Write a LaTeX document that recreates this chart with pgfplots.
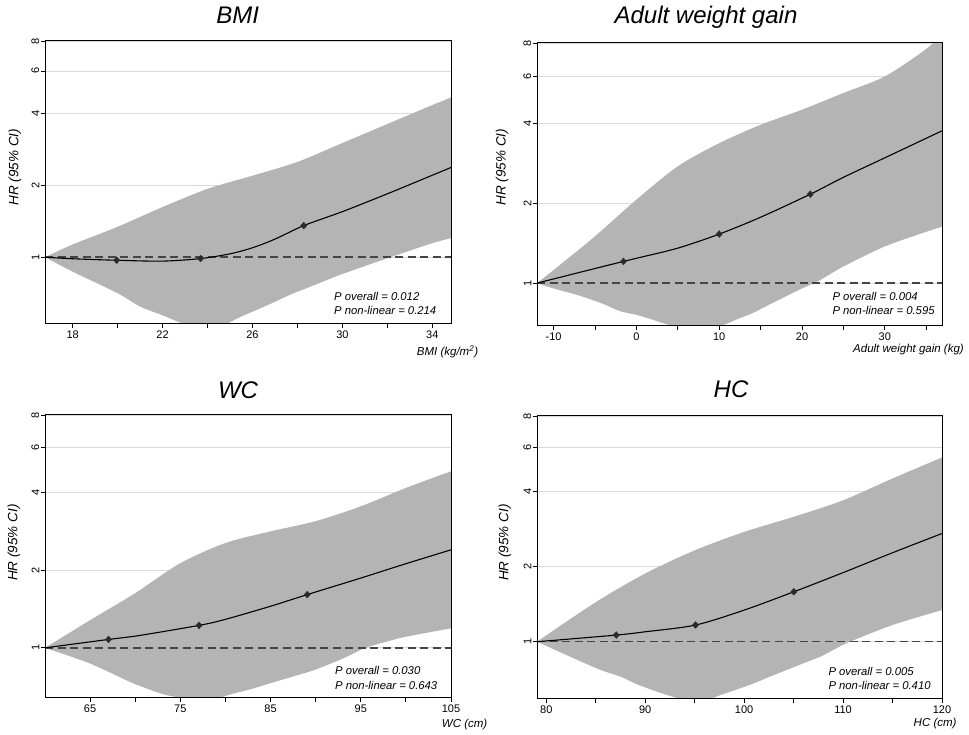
\documentclass[border=0pt]{standalone}
\usepackage{fontspec}
\setmainfont{Liberation Sans}
\usepackage{pgfplots}
\pgfplotsset{compat=1.18}

\definecolor{bandc}{HTML}{B4B4B4}
\definecolor{gridc}{HTML}{DADADA}
\definecolor{mk}{HTML}{2B2B2B}
\definecolor{refl}{HTML}{454545}

\pgfkeys{/pgf/number format/assume math mode=true}

\pgfplotsset{
  hrband/.style={fill=bandc, draw=none, smooth},
  hrcurve/.style={black, line width=1.1pt, smooth},
  hrmarks/.style={only marks, mark=diamond*, mark size=3.4pt, mark options={fill=mk, draw=mk, xscale=1.2}},
  hrref/.style={refl, line width=1.4pt, dash pattern=on 8pt off 4.5pt},
}

\begin{document}
\begin{tikzpicture}
\useasboundingbox (0,0) rectangle (969pt,735pt);

% BMI
\begin{semilogyaxis}[
  scale only axis, anchor=south west, at={(45pt,411pt)},
  width=406pt, height=283pt,
  xmin=16.77, xmax=34.83, ymin=0.526, ymax=8,
  xtick={18,22,26,30,34}, minor xtick={20,24,28,32},
  ytick={1,2,4,6,8}, yticklabels={1,2,4,6,8},
  ymajorgrids, grid style={gridc, line width=0.8pt},
  tick pos=left, tick align=outside,
  major tick length=4pt, minor tick length=4pt,
  tick style={black, line width=0.8pt},
  axis line style={line width=1pt},
  tick label style={font=\fontsize{11}{13}\selectfont},
  yticklabel style={rotate=90, anchor=south, inner sep=1.5pt},
  xticklabel style={inner sep=2.5pt}]
  % band: upper edge left to right, then lower edge right to left
  \addplot[hrband] coordinates {(16.77,1) (18,1.13) (20,1.34) (22,1.62) (24,1.93) (26,2.19) (28,2.5) (30,3.0) (32,3.6) (34,4.32) (34.83,4.65) (36,5.2)
    (36,1.25) (34.83,1.2) (34,1.144) (33,1.065) (32,0.99) (31,0.918) (29.88,0.843) (29.14,0.791) (28.4,0.742) (27.66,0.696) (26.92,0.646) (26.18,0.602) (25.43,0.561) (24.7,0.52) (24,0.505) (23,0.525) (22,0.572) (21,0.622) (20,0.707) (18,0.87) (16.77,1)};
  \addplot[hrref] coordinates {(16.77,1) (34.83,1)};
  \addplot[hrcurve] coordinates {(16.77,1) (18,0.985) (19.96,0.971) (22,0.963) (23.69,0.987) (25,1.033) (26,1.095) (27,1.19) (28.28,1.355) (30,1.55) (32,1.84) (34,2.2) (34.83,2.37)};
  \addplot[hrmarks] coordinates {(19.96,0.971) (23.69,0.987) (28.28,1.355)};
\end{semilogyaxis}
\draw[line width=1pt] (45pt,411pt) rectangle (451pt,694pt);

% Adult weight gain
\begin{semilogyaxis}[
  scale only axis, anchor=south west, at={(537pt,409pt)},
  width=405pt, height=283pt,
  xmin=-12, xmax=36.9, ymin=0.69, ymax=8,
  xtick={-10,0,10,20,30}, minor xtick={-5,5,15,25,35},
  ytick={1,2,4,6,8}, yticklabels={1,2,4,6,8},
  ymajorgrids, grid style={gridc, line width=0.8pt},
  tick pos=left, tick align=outside,
  major tick length=4pt, minor tick length=4pt,
  tick style={black, line width=0.8pt},
  axis line style={line width=1pt},
  tick label style={font=\fontsize{11}{13}\selectfont},
  yticklabel style={rotate=90, anchor=south, inner sep=1.5pt},
  xticklabel style={inner sep=2.5pt}]
  \addplot[hrband] coordinates {(-12,1) (-10,1.12) (-5,1.5) (0,2.06) (5,2.75) (10,3.36) (15,3.94) (20,4.49) (25,5.19) (30,5.99) (35,7.6) (36.9,8.7) (39,10)
    (39,1.7) (36.9,1.63) (35,1.56) (30,1.374) (25,1.155) (22,1.02) (20,0.955) (18,0.89) (16,0.829) (14,0.771) (12,0.728) (10,0.688) (7,0.665) (4,0.695) (2,0.728) (0,0.76) (-2,0.785) (-4,0.835) (-7,0.9) (-10,0.955) (-12,1)};
  \addplot[hrref] coordinates {(-12,1) (36.9,1)};
  \addplot[hrcurve] coordinates {(-12,1) (-5,1.135) (-1.56,1.207) (0,1.24) (5,1.354) (10,1.529) (15,1.77) (21,2.16) (25,2.5) (30,2.96) (36.9,3.74)};
  \addplot[hrmarks] coordinates {(-1.56,1.207) (10,1.529) (21,2.16)};
\end{semilogyaxis}
\draw[line width=1pt] (537pt,409pt) rectangle (942pt,692pt);

% WC
\begin{semilogyaxis}[
  scale only axis, anchor=south west, at={(45pt,37pt)},
  width=406pt, height=283pt,
  xmin=60, xmax=105, ymin=0.639, ymax=8,
  xtick={65,75,85,95,105}, minor xtick={70,80,90,100},
  ytick={1,2,4,6,8}, yticklabels={1,2,4,6,8},
  ymajorgrids, grid style={gridc, line width=0.8pt},
  tick pos=left, tick align=outside,
  major tick length=4pt, minor tick length=4pt,
  tick style={black, line width=0.8pt},
  axis line style={line width=1pt},
  tick label style={font=\fontsize{11}{13}\selectfont},
  yticklabel style={rotate=90, anchor=south, inner sep=1.5pt},
  xticklabel style={inner sep=2.5pt}]
  \addplot[hrband] coordinates {(60,1) (65,1.28) (70,1.63) (75,2.13) (80,2.55) (85,2.83) (90,3.1) (95,3.54) (100,4.17) (105,4.84) (107,5.1)
    (107,1.22) (105,1.19) (100,1.104) (98,1.06) (95.5,1.0) (93.5,0.925) (91.67,0.869) (89.8,0.819) (87.96,0.783) (86.1,0.749) (84.26,0.716) (82.4,0.685) (80.56,0.66) (79,0.635) (77,0.62) (75,0.64) (73.15,0.66) (71.3,0.695) (69.44,0.737) (65,0.869) (60,1)};
  \addplot[hrref] coordinates {(60,1) (105,1)};
  \addplot[hrcurve] coordinates {(60,1) (67.04,1.078) (70,1.11) (77.07,1.222) (80,1.29) (85,1.45) (89.07,1.609) (95,1.865) (100,2.12) (105,2.4)};
  \addplot[hrmarks] coordinates {(67.04,1.078) (77.07,1.222) (89.07,1.609)};
\end{semilogyaxis}
\draw[line width=1pt] (45pt,37pt) rectangle (451pt,320pt);

% HC
\begin{semilogyaxis}[
  scale only axis, anchor=south west, at={(537pt,36pt)},
  width=405pt, height=283pt,
  xmin=79.06, xmax=120, ymin=0.59, ymax=8,
  xtick={80,90,100,110,120}, minor xtick={85,95,105,115},
  ytick={1,2,4,6,8}, yticklabels={1,2,4,6,8},
  ymajorgrids, grid style={gridc, line width=0.8pt},
  tick pos=left, tick align=outside,
  major tick length=4pt, minor tick length=4pt,
  tick style={black, line width=0.8pt},
  axis line style={line width=1pt},
  tick label style={font=\fontsize{11}{13}\selectfont},
  yticklabel style={rotate=90, anchor=south, inner sep=1.5pt},
  xticklabel style={inner sep=2.5pt}]
  \addplot[hrband] coordinates {(79.06,1) (85,1.44) (90,1.875) (95,2.32) (100,2.75) (105,3.16) (110,3.68) (115,4.5) (120,5.46) (122,5.9)
    (122,1.4) (120,1.338) (115,1.166) (110.7,1.0) (109.3,0.94) (107.7,0.871) (106,0.82) (104.3,0.771) (102.6,0.725) (101,0.682) (99.3,0.645) (97.6,0.612) (96.5,0.59) (94.5,0.578) (92.5,0.607) (91,0.635) (89,0.68) (87.5,0.725) (85,0.785) (79.06,1)};
  \addplot[hrref] coordinates {(79.06,1) (120,1)};
  \addplot[hrcurve] coordinates {(79.06,1) (87.07,1.063) (90,1.096) (95.08,1.166) (100,1.338) (105.02,1.584) (110,1.89) (115,2.27) (120,2.71)};
  \addplot[hrmarks] coordinates {(87.07,1.063) (95.08,1.166) (105.02,1.584)};
\end{semilogyaxis}
\draw[line width=1pt] (537pt,36pt) rectangle (942pt,319pt);

% titles
\begin{scope}[every node/.style={font=\fontsize{24}{28}\selectfont\itshape, anchor=base, inner sep=0pt}]
  \node at (237.7pt,711pt) {BMI};
  \node at (706pt,711pt) {Adult weight gain};
  \node at (238pt,336.7pt) {WC};
  \node at (731pt,337pt) {HC};
\end{scope}

% y labels
\begin{scope}[every node/.style={font=\fontsize{13.5}{16}\selectfont\itshape, rotate=90, inner sep=0pt}]
  \node at (15pt,568pt) {HR (95\% CI)};
  \node at (502pt,568pt) {HR (95\% CI)};
  \node at (14pt,192.5pt) {HR (95\% CI)};
  \node at (505pt,192.5pt) {HR (95\% CI)};
\end{scope}

% x labels
\begin{scope}[every node/.style={font=\fontsize{11.5}{14}\selectfont\itshape, anchor=base west, inner sep=0pt}]
  \node at (416.7pt,379pt) {BMI (kg/m\textsuperscript{2})};
  \node[anchor=base east] at (964pt,382.3pt) {Adult weight gain (kg)};
  \node at (441.7pt,7pt) {WC (cm)};
  \node[anchor=base east] at (956.7pt,8.3pt) {HC (cm)};
\end{scope}

% p values
\begin{scope}[every node/.style={font=\fontsize{11.3}{14}\selectfont\itshape, anchor=base west, inner sep=0pt}]
  \node at (334pt,434.3pt) {P overall = 0.012};
  \node at (334pt,420pt) {P non-linear = 0.214};
  \node at (832.3pt,434.3pt) {P overall = 0.004};
  \node at (832.3pt,420pt) {P non-linear = 0.595};
  \node at (335pt,60pt) {P overall = 0.030};
  \node at (335pt,45.7pt) {P non-linear = 0.643};
  \node at (828.3pt,59pt) {P overall = 0.005};
  \node at (828.3pt,45pt) {P non-linear = 0.410};
\end{scope}
\end{tikzpicture}
\end{document}
